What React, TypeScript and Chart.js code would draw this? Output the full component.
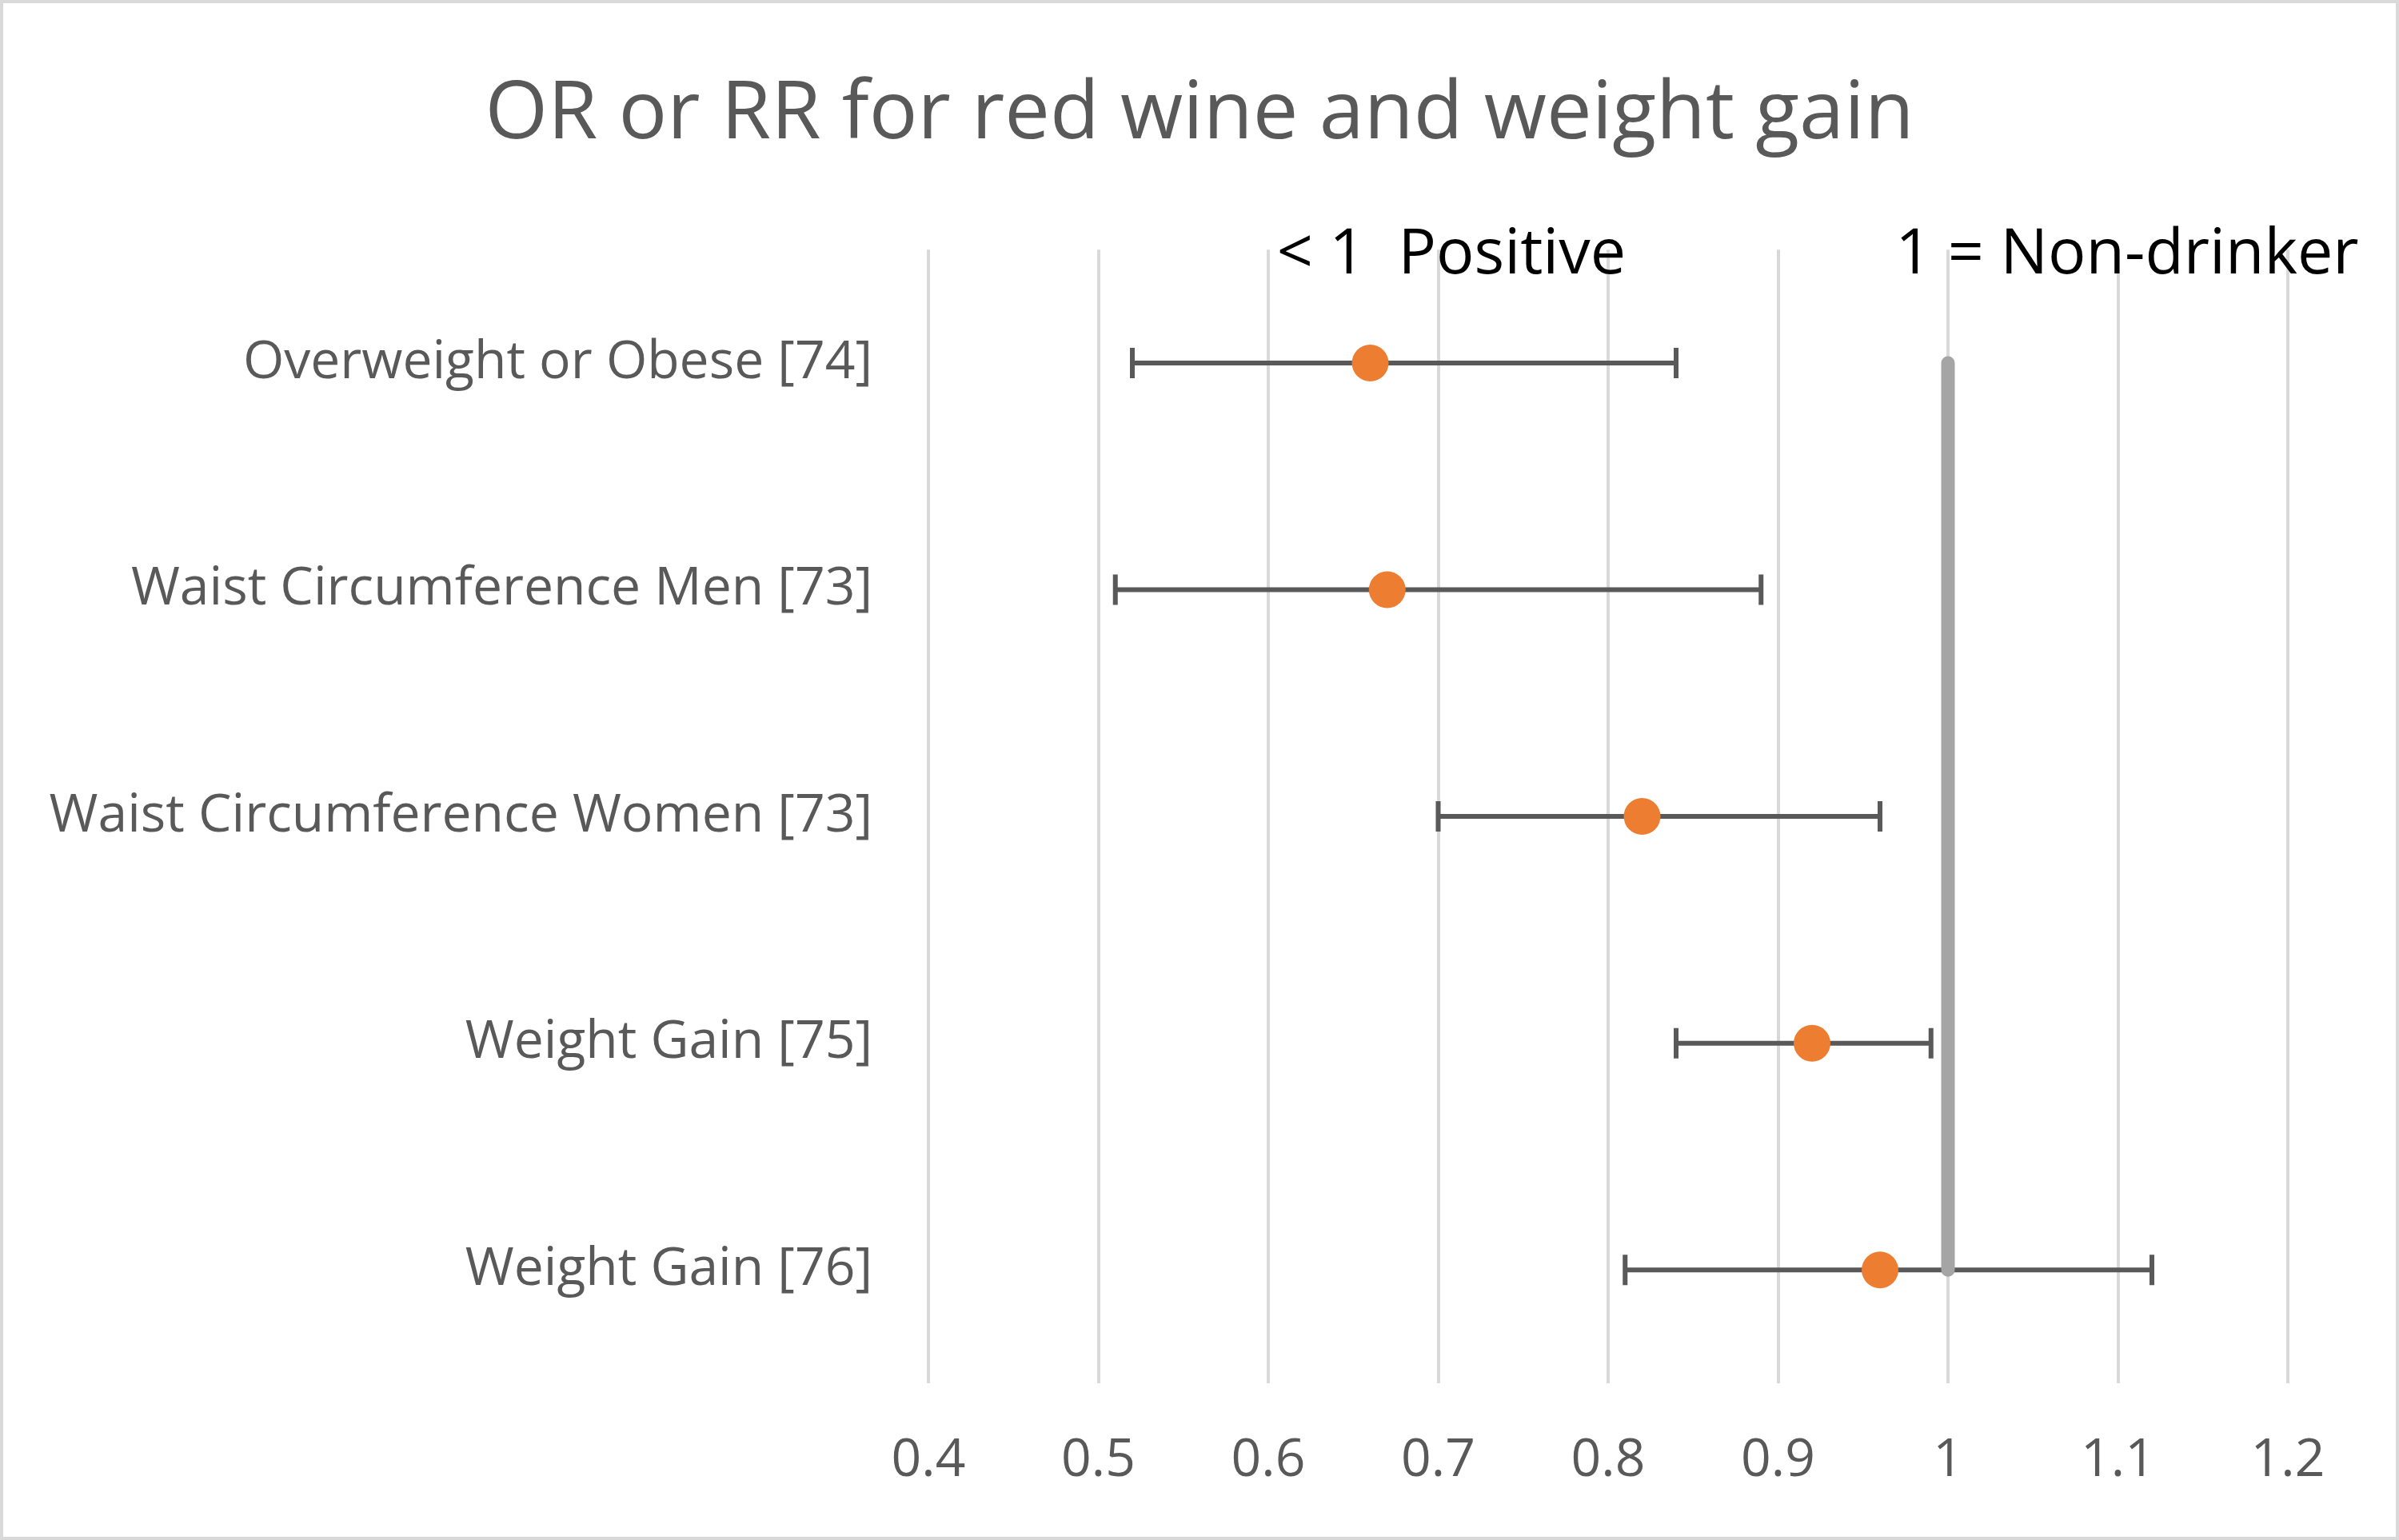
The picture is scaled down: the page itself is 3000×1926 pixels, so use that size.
import { useEffect, useRef } from 'react'
import { Chart, registerables, type Chart as ChartType, type Plugin } from 'chart.js'

Chart.register(...registerables)

const categories = [
  'Overweight or Obese [74]',
  'Waist Circumference Men [73]',
  'Waist Circumference Women [73]',
  'Weight Gain [75]',
  'Weight Gain [76]',
]
const estimates = [0.66, 0.67, 0.82, 0.92, 0.96]
const lower = [0.52, 0.51, 0.7, 0.84, 0.81]
const upper = [0.84, 0.89, 0.96, 0.99, 1.12]
const xTicks = [0.4, 0.5, 0.6, 0.7, 0.8, 0.9, 1, 1.1, 1.2]
const referenceValue = 1
const notes = ['< 1  Positive', '1 = Non-drinker']
// where each note starts, in x-axis units
const noteAnchors = [0.605, 0.969]

const FONT = "'Open Sans', sans-serif"
const GREY = '#595959'

const notesPlugin: Plugin<'scatter'> = {
  id: 'notes',
  afterDraw(chart) {
    const { ctx, chartArea, scales } = chart
    ctx.save()
    ctx.fillStyle = '#000000'
    ctx.font = `79px ${FONT}`
    ctx.textAlign = 'left'
    ctx.textBaseline = 'alphabetic'
    notes.forEach((t, i) => {
      ctx.fillText(t, scales.x.getPixelForValue(noteAnchors[i]), chartArea.top + 30)
    })
    ctx.restore()
  },
}

export default function App() {
  const canvasRef = useRef<HTMLCanvasElement>(null)
  const chartRef = useRef<ChartType<'scatter'> | null>(null)

  useEffect(() => {
    document.body.style.margin = '0'
    if (!canvasRef.current) return

    const whiskers = categories.map((c, i) => ({
      label: c,
      data: [
        { x: lower[i], y: c },
        { x: upper[i], y: c },
      ],
      showLine: true,
      borderColor: GREY,
      borderWidth: 6,
      pointStyle: 'line' as const,
      rotation: 90,
      pointRadius: 19,
      pointBorderWidth: 6,
      pointBorderColor: GREY,
      order: 2,
    }))

    chartRef.current = new Chart(canvasRef.current, {
      type: 'scatter',
      data: {
        datasets: [
          {
            label: 'Estimate',
            data: categories.map((c, i) => ({ x: estimates[i], y: c })),
            backgroundColor: '#ed7d31',
            borderColor: '#ed7d31',
            borderWidth: 0,
            pointRadius: 23,
            order: 0,
          },
          {
            label: 'Non-drinker',
            data: [
              { x: referenceValue, y: categories[0] },
              { x: referenceValue, y: categories[categories.length - 1] },
            ],
            showLine: true,
            borderColor: '#a5a5a5',
            borderWidth: 17,
            borderCapStyle: 'round',
            pointRadius: 0,
            order: 1,
          },
          ...whiskers,
        ] as any,
      },
      options: {
        responsive: false,
        devicePixelRatio: 1,
        animation: false,
        layout: { padding: 0 },
        plugins: {
          legend: { display: false },
          tooltip: { enabled: false },
          title: {
            display: true,
            text: 'OR or RR for red wine and weight gain',
            color: GREY,
            font: { family: FONT, size: 101, weight: 'normal', lineHeight: 1.2 },
            padding: { top: 84, bottom: 107 },
          },
        },
        scales: {
          x: {
            type: 'linear',
            min: xTicks[0],
            max: xTicks[xTicks.length - 1],
            afterBuildTicks: (scale) => {
              scale.ticks = xTicks.map((v) => ({ value: v }))
            },
            afterFit: (scale) => {
              scale.height = 196
              // plot area ends at x = 2861, title stays centred on the canvas
              scale.paddingRight = 139
            },
            grid: { color: '#d9d9d9', lineWidth: 4, drawTicks: false },
            border: { display: false },
            ticks: {
              color: GREY,
              padding: 58,
              font: { family: FONT, size: 66 },
              callback: (v) => String(Math.round(Number(v) * 10) / 10),
            },
          },
          y: {
            type: 'category',
            labels: categories,
            offset: true,
            afterFit: (scale) => {
              scale.width = 1161
            },
            grid: { display: false, drawTicks: false },
            border: { display: false },
            ticks: {
              color: GREY,
              padding: 70,
              font: { family: FONT, size: 66 },
            },
          },
        },
      },
      plugins: [notesPlugin],
    })

    return () => {
      chartRef.current?.destroy()
      chartRef.current = null
    }
  }, [])

  return (
    <div style={{ position: 'relative', width: 3000, height: 1926, background: '#ffffff' }}>
      <canvas ref={canvasRef} width={3000} height={1926} style={{ display: 'block' }} />
      <div
        style={{
          position: 'absolute',
          inset: 0,
          border: '4px solid #d9d9d9',
          boxSizing: 'border-box',
          pointerEvents: 'none',
        }}
      />
    </div>
  )
}
